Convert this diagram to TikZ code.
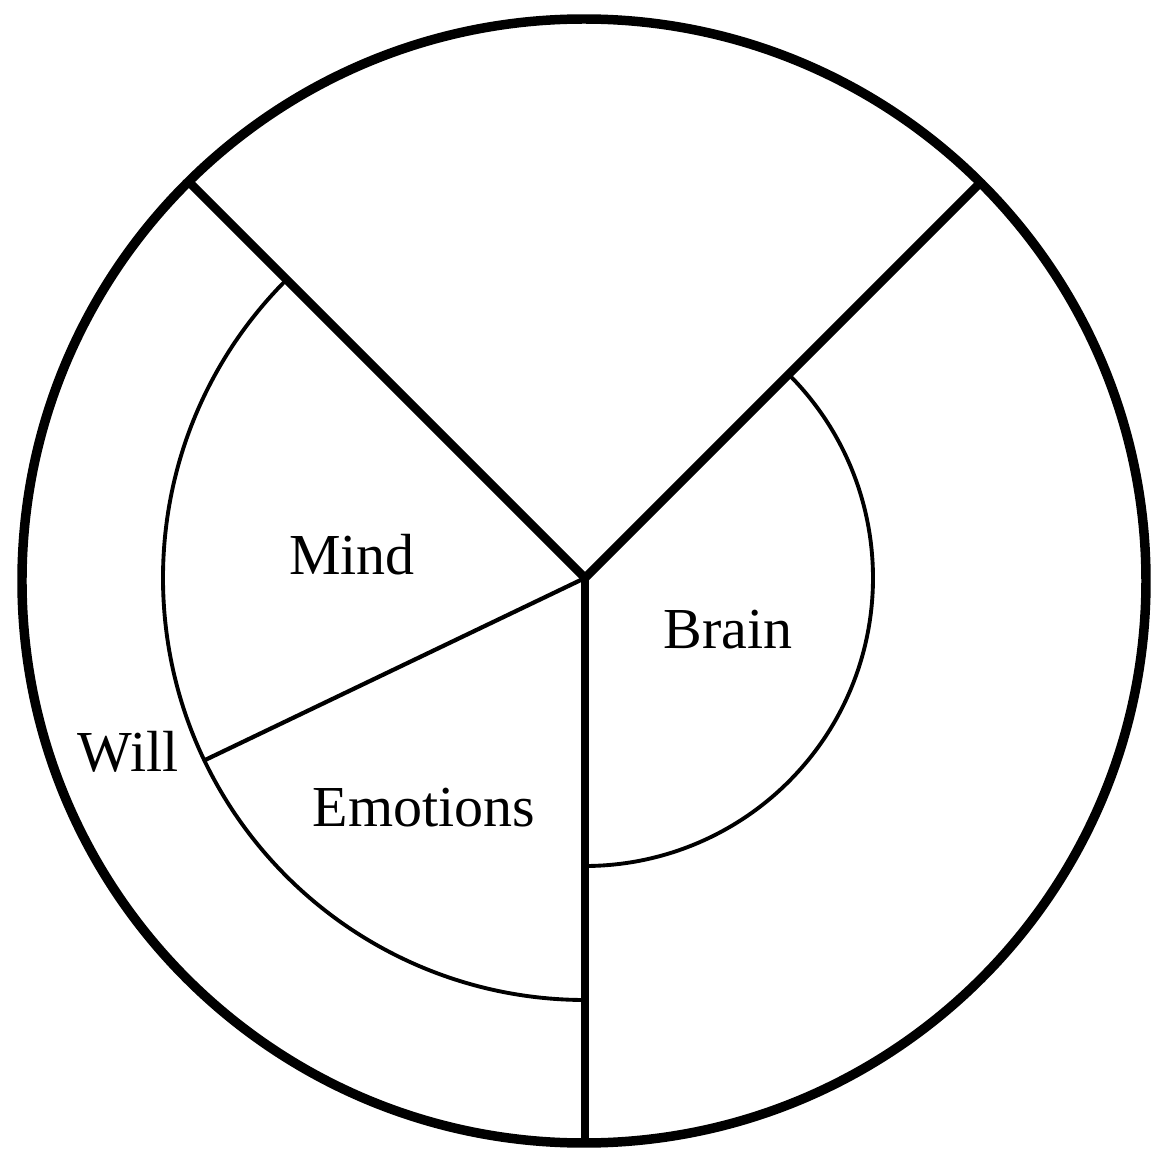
\documentclass[tikz,border=0pt]{standalone}
\usepackage{fontspec}
\setmainfont{Liberation Serif}
\usetikzlibrary{positioning}
\tikzset{
  rim/.style={draw=black, line width=2.7pt},
  spoke/.style={draw=black, line width=2.5pt},
  part/.style={draw=black, line width=1.1pt},
  lbl/.style={font=\fontsize{16.5}{20}\selectfont, inner sep=0pt},
}

\begin{document}
\begin{tikzpicture}
  \useasboundingbox (-5.85,-5.76) rectangle (5.68,5.78);

  % Mittelpunkt der Speichen
  \coordinate (hub) at (0,0);

  % äußerer Kreis
  \draw[rim] (-0.01,-0.03) circle (5.62);

  % drei Speichen
  \draw[spoke, line join=miter] (135:5.6) -- (hub) -- (45:5.6);
  \draw[spoke, line width=2.2pt] (hub) -- (0,-5.64);

  % innere Bögen
  \draw[part] (135:4.22) arc[start angle=135, end angle=270, radius=4.22];
  \draw[part] (45:2.88) arc[start angle=45, end angle=-90, radius=2.88];
  \draw[part, line width=1.2pt] (hub) -- (205.6:4.21);

  % Beschriftungen
  \node[lbl] (mind) at (-2.33,0.23) {Mind};
  \node[lbl] (brain) at (1.43,-0.52) {Brain};
  \node[lbl] (will) at (-4.57,-1.74) {Will};
  \node[lbl] (emotions) at (-1.61,-2.30) {Emotions};
\end{tikzpicture}
\end{document}
